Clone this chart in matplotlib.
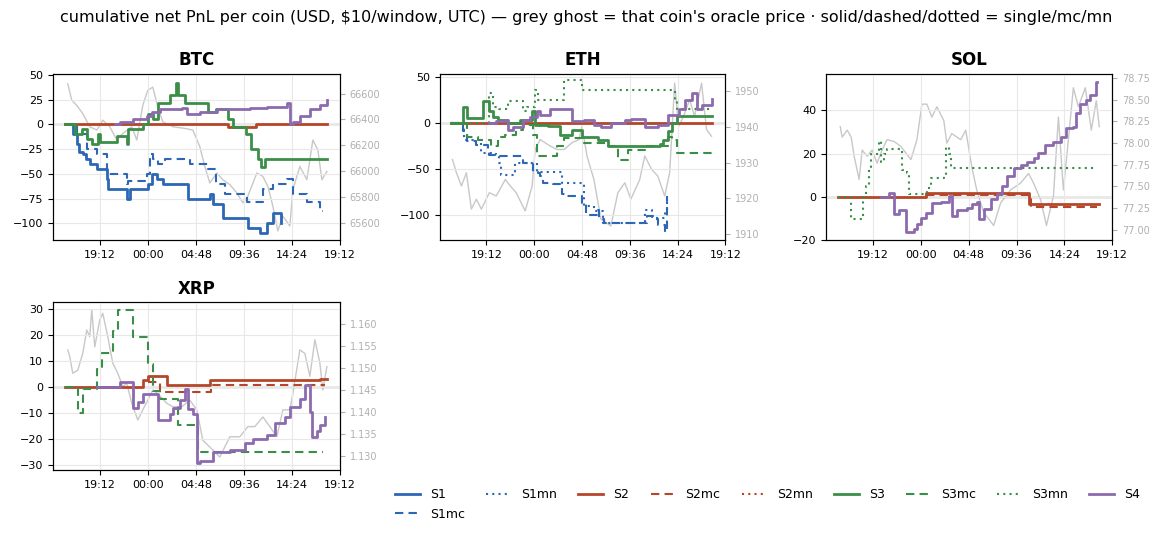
import matplotlib
matplotlib.use("Agg")
import matplotlib.pyplot as plt
import numpy as np
from matplotlib.ticker import FuncFormatter, MultipleLocator
from matplotlib.lines import Line2D

# ---------------- data (hours since day-0 00:00 UTC) ----------------
btc_price_h = [16.0,16.4,16.9,17.5,18.2,18.9,19.5,20.2,20.9,21.5,22.4,22.9,23.5,24.0,24.5,25.0,25.5,26.5,27.7,28.5,29.2,29.7,30.2,30.9,31.5,32.2,32.9,33.5,34.0,34.9,35.5,36.0,36.5,37.0,37.5,38.2,38.5,39.2,39.9,40.5,41.0,41.4,41.9]
btc_price = [66677,66549,66510,66446,66344,66318,66395,66344,66241,66292,66344,66241,66510,66626,66651,66497,66382,66344,66331,66318,66190,66036,65908,65985,65933,65895,65831,65754,65805,65985,65959,65882,65728,65536,65651,65574,65856,66036,65933,66241,66164,65933,65997]
btc = {
 "S1": ([15.7,16.5,16.9,17.1,17.5,17.8,18.2,18.9,19.9,20.0,21.9,22.2,24.0,24.4,24.9,25.5,28.0,30.2,30.5,31.5,34.0,35.2,35.9,36.5,37.3],
        [0,-10,-20,-28,-30,-35,-40,-45,-55,-65,-75,-65,-60,-50,-55,-60,-75,-70,-80,-95,-105,-110,-100,-90,-100]),
 "S1mc": ([15.7,16.9,17.9,18.9,19.9,21.7,21.9,22.0,23.9,24.2,24.5,25.0,25.7,28.2,30.0,30.8,31.7,33.9,35.5,36.5,37.9,38.5,39.9,41.2,41.5],
          [0,-10,-25,-30,-50,-50,-60,-57,-50,-30,-35,-40,-35,-40,-45,-60,-70,-78,-65,-60,-55,-70,-78,-88,-88]),
 "S2": ([15.7,32.0,34.8,41.9],[0,-3,0,0]),
 "S3": ([15.7,16.7,17.4,17.9,18.4,19.0,19.2,20.0,20.9,21.9,22.0,23.5,24.0,24.5,25.0,26.2,26.8,27.0,27.7,30.0,30.8,32.0,32.5,33.8,34.3,35.0,35.3,35.7,41.9],
        [0,-10,-5,-15,-20,-10,-18,-18,-12,-20,-5,0,10,5,22,30,42,30,22,12,15,5,-3,-10,-25,-35,-43,-35,-35]),
 "S4": ([20.7,21.2,22.5,23.9,24.4,25.2,27.4,27.9,29.2,30.9,32.5,34.2,35.9,37.9,38.2,38.5,39.2,40.2,41.2,41.9],
        [0,2,5,8,12,15,17,10,12,15,15,17,18,22,0,2,8,15,20,25]),
}
eth_price_h = [15.8,16.2,16.7,17.2,17.7,18.2,18.7,19.5,20.2,21.1,21.6,22.2,23.1,23.8,24.1,24.6,25.1,25.6,26.3,27.0,27.8,28.5,28.8,29.3,30.0,30.7,31.7,32.4,33.1,33.7,34.6,35.1,35.8,36.4,37.1,37.6,38.1,38.5,39.0,39.6,40.1,40.8,41.3,41.8]
eth_price = [1930.9,1927.2,1923.5,1927.2,1917.0,1919.8,1917.0,1921.6,1920.7,1925.3,1923.5,1921.6,1916.5,1923.5,1933.7,1936.5,1935.6,1934.7,1933.7,1933.7,1935.6,1936.5,1940.2,1931.9,1925.3,1914.2,1912.3,1921.6,1924.4,1919.8,1925.3,1931.9,1928.1,1926.3,1920.7,1927.2,1952.3,1940.2,1943.0,1947.7,1943.0,1952.3,1939.3,1937.4]
eth = {
 "S1mc": ([15.7,16.9,17.3,18.2,19.4,19.5,20.5,22.7,22.9,23.4,23.9,24.4,24.6,24.9,25.9,26.6,26.8,27.3,28.8,29.2,30.4,30.5,31.0,35.1,35.3,36.1,36.4,37.1,37.3],
          [0,-9,-20,-24,-29,-35,-36,-36,-44,-45,-53,-55,-58,-65,-66,-69,-77,-80,-87,-100,-95,-105,-109,-109,-102,-105,-111,-119,-80]),
 "S1mn": ([15.7,17.0,18.2,18.7,20.2,20.5,20.7,21.9,22.1,22.9,24.3,26.8,29.0,30.0,30.9,34.7,35.1,35.8,37.1,37.3],
          [0,-18,-22,-33,-35,-44,-57,-57,-44,-43,-53,-65,-91,-96,-109,-109,-95,-104,-95,-85]),
 "S2": ([15.7,41.8],[0,0]),
 "S3": ([15.7,16.9,17.3,18.5,18.9,19.5,19.9,20.4,21.3,22.6,23.8,24.1,25.4,26.6,27.8,28.8,30.4,31.4,36.6,36.9,37.4,37.8,38.3,41.8],
        [0,18,6,6,24,13,7,4,0,4,13,-2,-3,-13,-7,-15,-18,-25,-23,-18,-9,0,8,8]),
 "S3mc": ([15.7,17.3,18.4,19.7,20.4,21.1,22.2,22.9,23.9,24.3,26.3,27.0,28.7,29.0,31.4,32.4,33.4,35.3,37.4,37.8,38.3,41.8],
          [0,-15,-18,-25,-15,-13,-7,-2,-13,-36,-25,-16,-16,-22,-25,-40,-29,-25,-15,-18,-33,-33]),
 "S3mn": ([15.7,16.8,19.5,19.9,20.5,21.4,22.8,22.9,23.3,24.1,24.4,26.6,27.0,28.8,37.8,38.1,38.3,41.8],
          [0,0,33,18,15,24,24,13,18,36,25,25,47,36,36,24,15,15]),
 "S4": ([19.5,20.2,21.1,21.4,21.9,22.9,23.6,24.3,24.6,25.6,26.6,27.3,27.8,29.0,30.0,30.7,31.7,33.1,33.7,35.1,36.4,37.4,38.5,39.1,39.8,40.3,40.8,41.8],
        [0,2,4,-7,-4,4,7,13,9,15,16,15,2,4,-2,-4,0,4,5,-4,-2,9,15,25,33,15,20,27]),
}
sol_price_h = [15.9,16.1,16.6,17.0,17.3,17.8,18.1,18.6,19.1,19.6,20.1,20.6,21.3,22.0,23.0,23.6,24.1,24.6,25.1,25.6,26.3,26.6,27.1,28.0,28.5,29.1,29.6,30.3,31.3,32.0,33.0,34.0,34.8,35.3,36.0,36.6,37.3,37.8,38.3,38.8,39.3,39.8,40.5,41.1,41.6,41.9]
sol_price = [78.19,78.07,78.15,78.07,77.85,77.58,77.92,77.85,77.92,77.77,77.92,78.04,78.02,77.96,77.81,78.04,78.45,78.45,78.30,78.42,78.26,78.0,78.11,78.04,78.15,77.73,77.46,77.2,77.05,77.31,77.46,77.54,77.65,77.54,77.35,77.05,77.39,78.30,77.46,78.04,78.64,78.42,78.64,78.15,78.49,78.19]
sol = {
 "S2": ([15.7,24.5,34.8,41.8],[0,1.8,-3.1,-3.1]),
 "S2mc": ([24.5,35.0,41.6],[1.1,-4.7,-4.7]),
 "S3mn": ([15.7,17.0,18.2,18.5,18.8,19.0,19.8,20.0,20.3,20.6,22.1,22.6,22.8,24.6,25.0,26.3,26.5,26.8,27.0,41.5],
          [0,-10,0,5,14,20,26,16,20,22,12.5,11,1.5,4,8.7,10.2,23,20,13.3,13.3]),
 "S4": ([20.0,20.8,21.3,21.8,22.5,23.3,23.6,24.0,24.5,25.1,26.0,26.8,27.1,27.6,28.6,29.1,29.6,29.8,30.3,31.0,31.6,32.1,32.6,33.3,34.0,34.6,35.3,35.8,36.5,37.3,38.1,38.6,39.3,39.6,40.0,40.6,41.0,41.6],
        [0,1.8,-8,-6,-16,-15,-12.7,-9.6,-7.3,-2.7,-2.3,0.3,-8.9,-6.1,-5,-3.5,-2.4,-10.4,-5.8,-1.2,1.5,4.9,9.5,13.3,14.8,16.3,17.9,20.2,24,25.5,27.8,31.6,32.4,38.5,43,44.6,46.9,53]),
}
xrp_price_h = [16.0,16.2,16.5,17.0,17.5,17.9,18.2,18.4,18.7,19.2,19.5,20.0,20.5,21.0,21.5,21.9,22.4,23.0,23.5,24.0,24.5,25.0,25.9,26.5,27.4,28.2,28.9,29.5,30.5,31.2,32.2,33.2,34.0,34.7,35.5,36.2,36.9,37.5,38.2,38.5,39.2,39.7,40.2,40.7,41.2,41.5,41.9]
xrp_price = [1.1541,1.1526,1.1488,1.1495,1.1533,1.1586,1.1571,1.1632,1.1548,1.1609,1.1624,1.1571,1.1511,1.1488,1.1458,1.1465,1.1420,1.1382,1.1405,1.1427,1.1450,1.1442,1.1420,1.1412,1.1412,1.1427,1.1405,1.1336,1.1314,1.1298,1.1344,1.1344,1.1367,1.1367,1.1389,1.1367,1.1344,1.1405,1.1405,1.1442,1.1541,1.1533,1.1481,1.1564,1.1511,1.1450,1.1503]
xrp = {
 "S2": ([15.7,23.5,24.0,25.9,30.2,41.2,41.9],[0,2.6,4.1,0.5,2.6,2.9,2.9]),
 "S2mc": ([24.0,25.2,30.35,41.7],[1.8,-2,0.5,0.5]),
 "S3mc": ([15.7,17.0,17.5,18.95,19.4,20.5,21.0,22.5,24.0,24.5,25.2,27.0,29.0,41.5],
          [0,-10,-1,6.7,12.8,21.4,29.5,19.2,8.7,-1.5,-4.5,-14.7,-25,-25]),
 "S4": ([18.9,21.2,22.5,23.0,23.5,25.0,26.2,26.5,27.2,27.7,28.0,28.5,28.9,29.2,30.5,32.2,33.7,34.5,35.9,36.7,37.7,38.2,39.2,39.7,40.2,40.4,40.9,41.2,41.7],
        [0,1.7,-8,-5.8,-2.6,-12.8,-10.5,-8.3,-5,-1,-8.7,-10.3,-29.2,-28.5,-25,-24.4,-21.4,-19.9,-18.6,-13.8,-11.5,-7.7,-4.5,0.6,-9.6,-19.2,-16.9,-14.5,-11.5]),
}

series_names = ["S1","S1mc","S1mn","S2","S2mc","S2mn","S3","S3mc","S3mn","S4"]
colors = {"S1":"#2c66b5","S2":"#b5462a","S3":"#3b8e47","S4":"#8b6aae"}

def style(name):
    base = name[:2]
    if name.endswith("mc"):
        return dict(color=colors[base], ls=(0,(4,2.5)), lw=1.5)
    if name.endswith("mn"):
        return dict(color=colors[base], ls=(0,(1,2)), lw=1.5)
    return dict(color=colors[base], ls="-", lw=2.0)

def fmt_time(x, pos):
    h = x % 24
    hh = int(h + 1e-6); mm = int(round((h - hh) * 60))
    if mm == 60: hh += 1; mm = 0
    return f"{hh % 24:02d}:{mm:02d}"

fig = plt.figure(figsize=(11.72, 5.35), dpi=100)
fig.suptitle("cumulative net PnL per coin (USD, $10/window, UTC) \u2014 grey ghost = that coin's oracle price \u00b7 solid/dashed/dotted = single/mc/mn",
             fontsize=11.5, y=0.982)

panels = [
    ("BTC", [0.045,0.551,0.245,0.311], btc_price_h, btc_price, btc, (-117,51), 25, (65464,66754), 200, "{:.0f}"),
    ("ETH", [0.375,0.551,0.244,0.311], eth_price_h, eth_price, eth, (-128,54), 50, (1908.3,1954.9), 10, "{:.0f}"),
    ("SOL", [0.705,0.551,0.244,0.311], sol_price_h, sol_price, sol, (-20,56.8), 20, (76.88,78.80), 0.25, "{:.2f}"),
    ("XRP", [0.045,0.121,0.245,0.314], xrp_price_h, xrp_price, xrp, (-32,32.4), 10, (1.1268,1.1649), 0.005, "{:.3f}"),
]
for title, rect, ph, pv, ser, yl, ystep, pyl, pstep, pf in panels:
    ax = fig.add_axes(rect)
    ax2 = ax.twinx()
    ax2.plot(ph, pv, color="#c8c8c8", lw=1.0)
    ax2.set_ylim(*pyl)
    ax2.yaxis.set_major_locator(MultipleLocator(pstep))
    ax2.yaxis.set_major_formatter(FuncFormatter(lambda v, p, f=pf: f.format(v)))
    ax2.tick_params(axis="y", labelsize=7, colors="#b0b0b0")
    ax.set_zorder(ax2.get_zorder() + 1)
    ax.patch.set_visible(False)
    ax.axhline(0, color="#999999", lw=1.0, zorder=1)
    for name in series_names:
        if name in ser:
            h, v = ser[name]
            ax.plot(list(h) + [h[-1] + 0.05], list(v) + [v[-1]], drawstyle="steps-post", **style(name))
    ax.set_xlim(14.5, 43.2)
    ax.set_ylim(*yl)
    ax.yaxis.set_major_locator(MultipleLocator(ystep))
    ax.set_xticks([19.2, 24.0, 28.8, 33.6, 38.4, 43.2])
    ax.xaxis.set_major_formatter(FuncFormatter(fmt_time))
    ax.tick_params(labelsize=8)
    ax.grid(True, color="#e8e8e8", lw=0.8)
    ax.set_title(title, fontsize=12, fontweight="bold")

handles = [Line2D([], [], **style(n)) for n in series_names]
fig.legend(handles, series_names, loc="center", bbox_to_anchor=(0.655, 0.057), ncol=9,
           frameon=False, fontsize=9, handlelength=2.0, columnspacing=1.7, handletextpad=0.8)
fig.savefig("out.png", dpi=100)
